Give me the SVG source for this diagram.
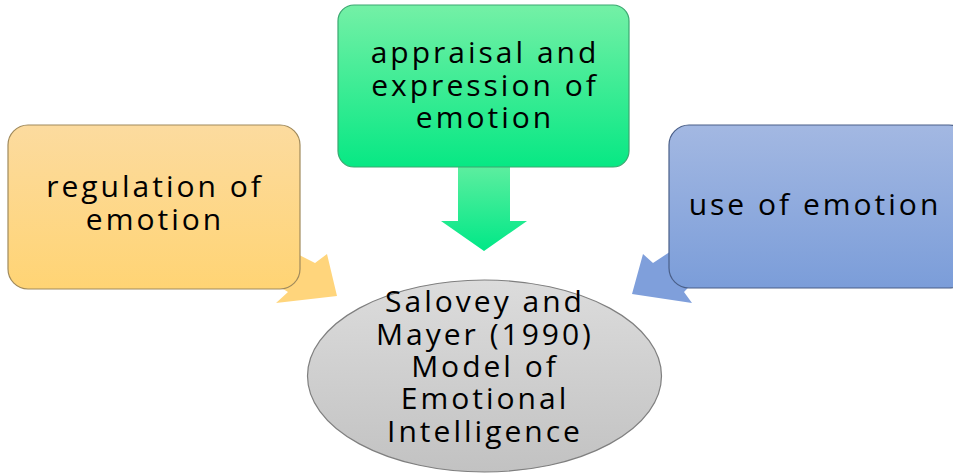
<svg xmlns="http://www.w3.org/2000/svg" width="953" height="475" viewBox="0 0 953 475">
<defs>
<linearGradient id="gOr" x1="0" y1="0" x2="0" y2="1"><stop offset="0" stop-color="#fcdb9f"/><stop offset="1" stop-color="#ffd474"/></linearGradient>
<linearGradient id="gGr" x1="0" y1="0" x2="0" y2="1"><stop offset="0" stop-color="#74f0a6"/><stop offset="1" stop-color="#07e884"/></linearGradient>
<linearGradient id="gBl" x1="0" y1="0" x2="0" y2="1"><stop offset="0" stop-color="#a3b8e2"/><stop offset="1" stop-color="#7b9dd9"/></linearGradient>
<linearGradient id="gGy" x1="0" y1="0" x2="0" y2="1"><stop offset="0" stop-color="#dcdcdc"/><stop offset="1" stop-color="#c2c2c2"/></linearGradient>
<linearGradient id="gGa" x1="0" y1="0" x2="0" y2="1"><stop offset="0" stop-color="#5cee9f"/><stop offset="1" stop-color="#00e887"/></linearGradient>
</defs>
<style>
.t{font-family:"Open Sans","Noto Sans",sans-serif;font-size:30px;letter-spacing:3px;fill:#000;text-anchor:middle}
.box{stroke-width:1.2}
</style>
<g id="connectors">
<polygon points="250,230 315,263 327,254 337,296 276,303 288,292 240,262" fill="#ffd57c"/>
<polygon points="703,230 653,263 643,254 632,294 692,303 684,292 713,262" fill="#7f9fdb"/>
<polygon points="458,167 510,167 510,221 527,221 484,251 441,221 458,221" fill="url(#gGa)"/>
</g>
<g id="regulation">
<rect x="8" y="125" width="292" height="164" rx="20" fill="url(#gOr)" stroke="#a08a5c" class="box"/>
<text class="t" x="155" y="197">regulation of</text>
<text class="t" x="155" y="230">emotion</text>
</g>
<g id="appraisal">
<rect x="338" y="5" width="291" height="162" rx="16" fill="url(#gGr)" stroke="#3aa870" class="box"/>
<text class="t" x="485" y="63">appraisal and</text>
<text class="t" x="485" y="96">expression of</text>
<text class="t" x="485" y="128">emotion</text>
</g>
<g id="use">
<rect x="669" y="125" width="300" height="163" rx="20" fill="url(#gBl)" stroke="#4a5f88" class="box"/>
<text class="t" x="815" y="215">use of emotion</text>
</g>
<g id="model">
<ellipse cx="484.5" cy="376" rx="177" ry="96" fill="url(#gGy)" stroke="#7f7f7f" stroke-width="1.2"/>
<text class="t" x="485" y="312">Salovey and</text>
<text class="t" x="485" y="345">Mayer (1990)</text>
<text class="t" x="485" y="377">Model of</text>
<text class="t" x="485" y="409">Emotional</text>
<text class="t" x="485" y="442">Intelligence</text>
</g>
</svg>
